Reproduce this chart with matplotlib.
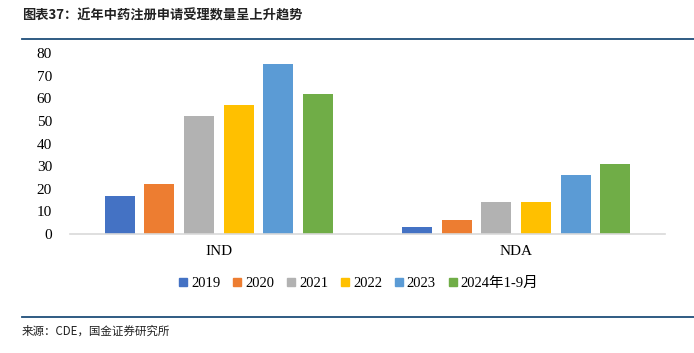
import numpy as np
import matplotlib.pyplot as plt
from matplotlib.lines import Line2D

# 数据
categories = ['IND', 'NDA']
series_names = ['2019', '2020', '2021', '2022', '2023', '2024年1-9月']
values = {
    '2019': [17, 3],
    '2020': [22, 6],
    '2021': [52, 14],
    '2022': [57, 14],
    '2023': [75, 26],
    '2024年1-9月': [62, 31],
}
colors = ['#4472C4', '#ED7D31', '#B2B2B2', '#FFC000', '#5B9BD5', '#70AD47']

plt.rcParams['font.family'] = ['Liberation Serif', 'Noto Sans CJK SC']

fig = plt.figure(figsize=(6.94, 3.53), dpi=100)
ax = fig.add_axes([70 / 694, 1 - 234 / 353, 595 / 694, 181 / 353])

x = np.arange(len(categories))
pitch = 0.133
width = 0.101
n = len(series_names)
for k, (name, c) in enumerate(zip(series_names, colors)):
    ax.bar(x + (k - (n - 1) / 2) * pitch, values[name], width, color=c, label=name, zorder=2)

ax.set_xlim(-0.5, 1.5)
ax.set_ylim(0, 80)
ax.set_yticks(range(0, 81, 10))
ax.set_xticks(x)
ax.set_xticklabels(categories, fontsize=11)
ax.tick_params(axis='y', length=0, labelsize=11, pad=13)
ax.tick_params(axis='x', length=0, pad=8)
for s in ['top', 'right', 'left']:
    ax.spines[s].set_visible(False)
ax.spines['bottom'].set_color('#D9D9D9')
ax.spines['bottom'].set_linewidth(1.2)

handles = [Line2D([], [], marker='s', ls='', color=c, markersize=5.5) for c in colors]
fig.legend(handles, series_names, loc='center', bbox_to_anchor=(359 / 694, 1 - 283 / 353),
           ncol=n, frameon=False, fontsize=10.5, handlelength=0.5, handletextpad=0.3,
           columnspacing=0.9)

# 标题与来源
fig.text(22 / 694, 1 - 16 / 353, '图表37：近年中药注册申请受理数量呈上升趋势',
         family=['Noto Sans CJK SC'], fontsize=9.5, fontweight='bold', color='#222222',
         va='center', ha='left')
fig.add_artist(Line2D([22 / 694, 1], [1 - 39 / 353] * 2, color='#1F4E79', lw=1.3))
fig.add_artist(Line2D([22 / 694, 1], [1 - 317 / 353] * 2, color='#1F4E79', lw=1.3))
fig.text(22 / 694, 1 - 331 / 353, '来源：CDE，国金证券研究所',
         family=['Noto Sans CJK SC'], fontsize=8.3, color='#222222', va='center', ha='left')

fig.savefig('out.png', dpi=100)
